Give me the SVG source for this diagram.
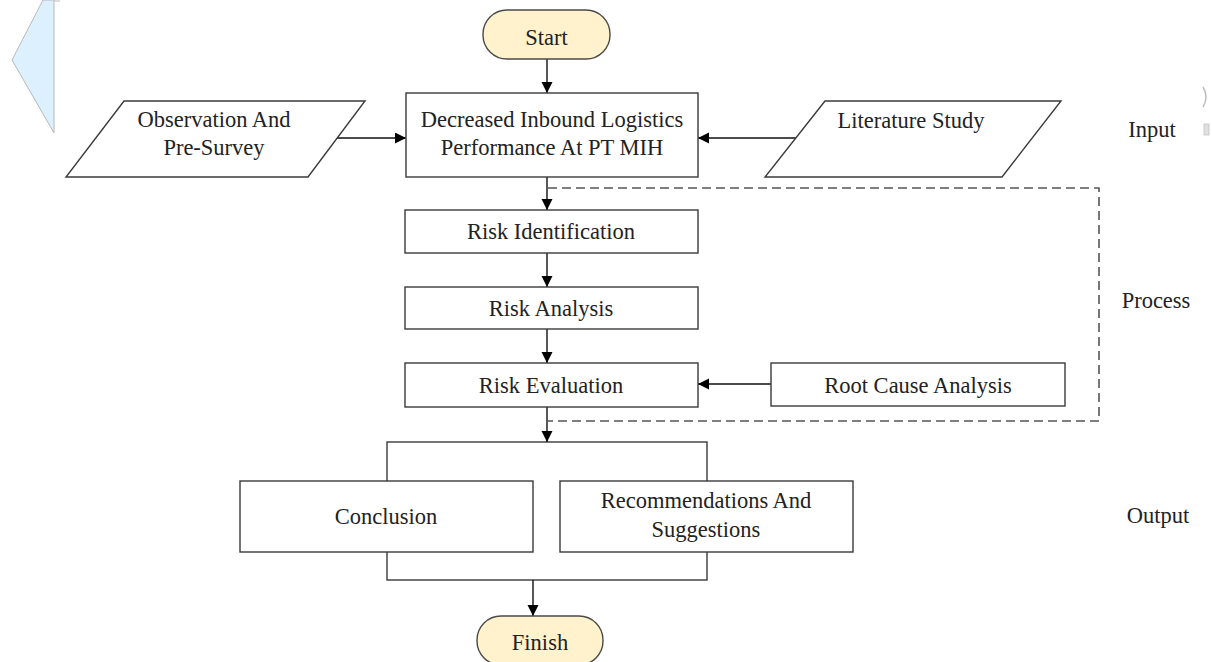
<svg xmlns="http://www.w3.org/2000/svg" width="1212" height="662" viewBox="0 0 1212 662">
<defs>
<style>
.box{fill:#fff;stroke:#3a3a3a;stroke-width:1.4}
.pill{fill:#fff2cc;stroke:#4a4a4a;stroke-width:1.4}
.t{font-family:"Liberation Serif","Times New Roman",serif;font-size:22.5px;fill:#222;text-anchor:middle}
.ln{fill:none;stroke:#111;stroke-width:1.4}
.dash{fill:none;stroke:#555;stroke-width:1.6;stroke-dasharray:9 5}
.art{fill:#dcf1fd;stroke:#b9b9b9;stroke-width:1}
</style>
<marker id="ah" markerUnits="userSpaceOnUse" markerWidth="12" markerHeight="12" refX="11" refY="5.5" orient="auto">
<path d="M0,0 L11,5.5 L0,11 z" fill="#000"/>
</marker>
</defs>
<rect width="1212" height="662" fill="#fff"/>
<g id="artifacts">
<polygon class="art" points="43,0 54,0 54,133 12,60"/>
<path d="M54,1 L60,1" stroke="#b9b9b9" fill="none"/>
<path d="M1203,87 Q1209,97 1203,107" stroke="#bdbdbd" stroke-width="1.5" fill="none"/>
<rect x="1204" y="124" width="5" height="11" fill="#e0e0e0" stroke="#c4c4c4" stroke-width="0.8"/>
</g>
<g id="connectors">
<polyline class="dash" points="548,188 1099,188 1099,421 548,421"/>
<rect x="387" y="442" width="320" height="138" class="box"/>
<line class="ln" x1="547" y1="59" x2="547" y2="93" marker-end="url(#ah)"/>
<line class="ln" x1="333" y1="138" x2="406" y2="138" marker-end="url(#ah)"/>
<line class="ln" x1="796" y1="138" x2="698" y2="138" marker-end="url(#ah)"/>
<line class="ln" x1="547" y1="177" x2="547" y2="210" marker-end="url(#ah)"/>
<line class="ln" x1="547" y1="253" x2="547" y2="287" marker-end="url(#ah)"/>
<line class="ln" x1="547" y1="329" x2="547" y2="363" marker-end="url(#ah)"/>
<line class="ln" x1="771" y1="384" x2="698" y2="384" marker-end="url(#ah)"/>
<line class="ln" x1="547" y1="407" x2="547" y2="442" marker-end="url(#ah)"/>
<line class="ln" x1="533" y1="580" x2="533" y2="616" marker-end="url(#ah)"/>
</g>
<g id="start">
<rect class="pill" x="483" y="10" width="127" height="49" rx="24" ry="24"/>
<text class="t" x="546.5" y="45">Start</text>
</g>
<g id="problem">
<rect class="box" x="406" y="93" width="292" height="84"/>
<text class="t" x="552" y="127">Decreased Inbound Logistics</text>
<text class="t" x="552" y="155">Performance At PT MIH</text>
</g>
<g id="observation">
<polygon class="box" points="124,101 365,101 308,177 66,177"/>
<text class="t" x="214" y="127">Observation And</text>
<text class="t" x="214" y="155">Pre-Survey</text>
</g>
<g id="literature">
<polygon class="box" points="825,101 1061,101 1002,177 765,177"/>
<text class="t" x="911" y="128">Literature Study</text>
</g>
<g id="risk-identification">
<rect class="box" x="405" y="210" width="293" height="43"/>
<text class="t" x="551" y="239">Risk Identification</text>
</g>
<g id="risk-analysis">
<rect class="box" x="405" y="287" width="293" height="42"/>
<text class="t" x="551" y="316">Risk Analysis</text>
</g>
<g id="risk-evaluation">
<rect class="box" x="405" y="363" width="293" height="44"/>
<text class="t" x="551" y="393">Risk Evaluation</text>
</g>
<g id="root-cause">
<rect class="box" x="771" y="363" width="294" height="43"/>
<text class="t" x="918" y="393">Root Cause Analysis</text>
</g>
<g id="conclusion">
<rect class="box" x="240" y="481" width="293" height="71"/>
<text class="t" x="386" y="524">Conclusion</text>
</g>
<g id="recommendations">
<rect class="box" x="560" y="481" width="293" height="71"/>
<text class="t" x="706" y="508">Recommendations And</text>
<text class="t" x="706" y="537">Suggestions</text>
</g>
<g id="finish">
<rect class="pill" x="477" y="616" width="126" height="49" rx="24" ry="24"/>
<text class="t" x="540" y="650">Finish</text>
</g>
<g id="labels">
<text class="t" x="1152" y="137">Input</text>
<text class="t" x="1156" y="308">Process</text>
<text class="t" x="1158" y="523">Output</text>
</g>
</svg>
